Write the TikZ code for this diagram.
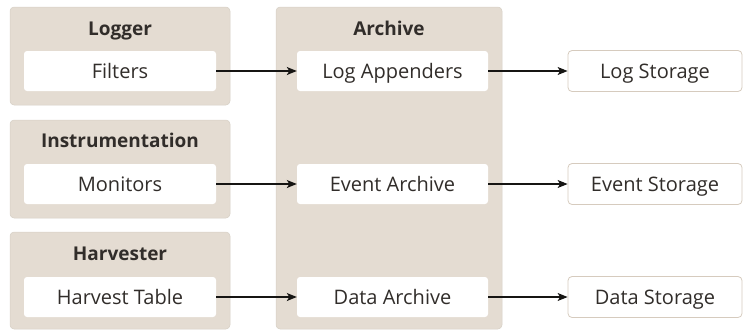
\documentclass[tikz,border=0pt]{standalone}
\usepackage{fontspec}
\setmainfont{Open Sans}
\usetikzlibrary{arrows.meta}
\definecolor{cont}{HTML}{E4DCD2}
\definecolor{txt}{HTML}{312D2A}
\definecolor{sborder}{HTML}{D6CBBE}
\definecolor{arr}{HTML}{161513}
\tikzset{
  container/.style={fill=cont, draw=cont!90!black!60!cont, line width=0.5pt, rounded corners=4pt},
  lbl/.style={text=txt, text height=14.4pt, text depth=0pt},
  inner/.style={lbl, fill=white, rounded corners=3pt, minimum width=192pt, minimum height=40pt, inner sep=0pt, font=\fontsize{20}{24}\selectfont},
  store/.style={lbl, fill=white, draw=sborder, line width=0.8pt, rounded corners=4pt, minimum width=174pt, minimum height=41pt, inner sep=0pt, font=\fontsize{20}{24}\selectfont},
  title/.style={lbl, text height=13.7pt, font=\fontsize{19}{23}\selectfont\bfseries, inner sep=0pt},
  conn/.style={-{Stealth[length=10pt,width=8pt,inset=2.5pt]}, line width=1.1pt, draw=arr},
}
\begin{document}
\begin{tikzpicture}[x=1pt,y=-1pt]
\useasboundingbox (0,0) rectangle (752,330);
% containers
\draw[container] (10,7) rectangle (230,105);
\draw[container] (10,120) rectangle (230,218);
\draw[container] (10,232) rectangle (230,329);
\draw[container] (276,7) rectangle (502,329);
% titles
\node[title] (tlog) at (120,29) {Logger};
\node[title] (tins) at (120,141) {Instrumentation};
\node[title] (thar) at (120,254) {Harvester};
\node[title] (tarc) at (389,29) {Archive};
% inner nodes
\node[inner] (filters) at (120,71) {Filters};
\node[inner] (monitors) at (120,184) {Monitors};
\node[inner] (harvest) at (120,297) {Harvest Table};
\node[inner, minimum width=191pt] (logapp) at (392.5,71) {Log Appenders};
\node[inner, minimum width=191pt] (evarch) at (392.5,184) {Event Archive};
\node[inner, minimum width=191pt] (datarch) at (392.5,297) {Data Archive};
% storage
\node[store] (logst) at (655,71) {Log Storage};
\node[store] (evst) at (655,184) {Event Storage};
\node[store] (datst) at (655,297) {Data Storage};
% connectors
\draw[conn] (filters) -- (logapp);
\draw[conn] (monitors) -- (evarch);
\draw[conn] (harvest) -- (datarch);
\draw[conn] (logapp) -- (logst);
\draw[conn] (evarch) -- (evst);
\draw[conn] (datarch) -- (datst);
\end{tikzpicture}
\end{document}
